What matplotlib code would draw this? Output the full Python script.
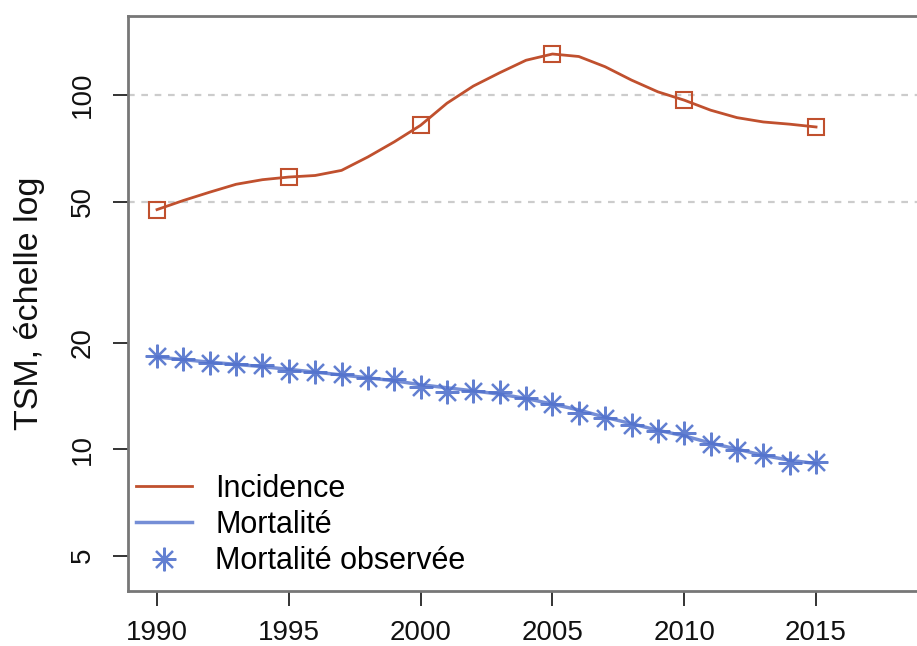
import matplotlib
matplotlib.use("Agg")
import matplotlib.pyplot as plt

plt.rcParams['font.family'] = ['Liberation Sans', 'DejaVu Sans']

# yearly values
years = list(range(1990, 2016))
incidence = [47.5, 50.4, 53.2, 56.0, 57.7, 58.7, 59.3, 61.3, 66.9, 73.8,
             82.2, 94.9, 106.1, 115.7, 125.5, 130.7, 128.6, 120.3, 110.3, 102.2,
             96.8, 90.7, 86.4, 84.0, 82.8, 81.3]
inc_years = [1990, 1995, 2000, 2005, 2010, 2015]
inc_marks = [47.5, 58.7, 82.2, 130.7, 96.8, 81.3]
mortalite = [18.2, 17.9, 17.6, 17.35, 17.1, 16.8, 16.5, 16.2, 15.9, 15.6,
             15.2, 14.9, 14.6, 14.3, 13.9, 13.4, 12.9, 12.3, 11.8, 11.3,
             10.9, 10.4, 10.0, 9.6, 9.3, 9.1]
mort_obs = [18.31, 17.92, 17.46, 17.35, 17.27, 16.64, 16.53, 16.26, 15.84, 15.74,
            14.94, 14.52, 14.61, 14.52, 13.91, 13.38, 12.61, 12.21, 11.69, 11.27,
            11.08, 10.33, 9.94, 9.62, 9.11, 9.21]
yticks = [5, 10, 20, 50, 100]
xticks = [1990, 1995, 2000, 2005, 2010, 2015]

c_inc = '#c0502e'
c_mort = '#5272cc'

fig = plt.figure(figsize=(9.17, 6.46), dpi=100)
ax = fig.add_axes([0.1396, 0.085, 0.8604, 0.89])
ax.set_yscale('log')

for g in [50, 100]:
    ax.axhline(g, color='#cccccc', lw=1.6, dashes=(3, 3), zorder=0)

ax.plot(years, incidence, color=c_inc, lw=2, label='Incidence')
ax.plot(inc_years, inc_marks, ls='none', marker='s', ms=11, mfc='none',
        mec=c_inc, mew=1.5)
ax.plot(years, mortalite, color=c_mort, lw=2.5, alpha=0.8, label='Mortalité')
ax.plot(years, mort_obs, ls='none', marker=(8, 2, 0), ms=17, mec=c_mort,
        mew=1.6, alpha=0.9, label='Mortalité observée')

ax.set_xlim(1988.9, 2018.83)
ax.set_ylim(3.97, 167.2)
ax.set_yticks(yticks)
ax.set_yticklabels([str(v) for v in yticks], rotation=90, va='center')
ax.minorticks_off()
ax.set_xticks(xticks)

for s in ['left', 'top', 'bottom']:
    ax.spines[s].set_color('#777777')
    ax.spines[s].set_linewidth(2)
ax.spines['right'].set_visible(False)
ax.tick_params(axis='both', direction='out', length=11, width=1.4,
               color='#333333', labelsize=20, labelcolor='#111111')
ax.tick_params(axis='x', pad=10)
ax.tick_params(axis='y', pad=12)

ax.set_ylabel('TSM, échelle log', fontsize=24.5, color='#111111', labelpad=18)

ax.legend(loc='lower left', bbox_to_anchor=(-0.025, -0.022), frameon=False,
          fontsize=22, handlelength=1.85, handletextpad=0.75, labelspacing=0.2)

fig.savefig('out.png', dpi=100)
